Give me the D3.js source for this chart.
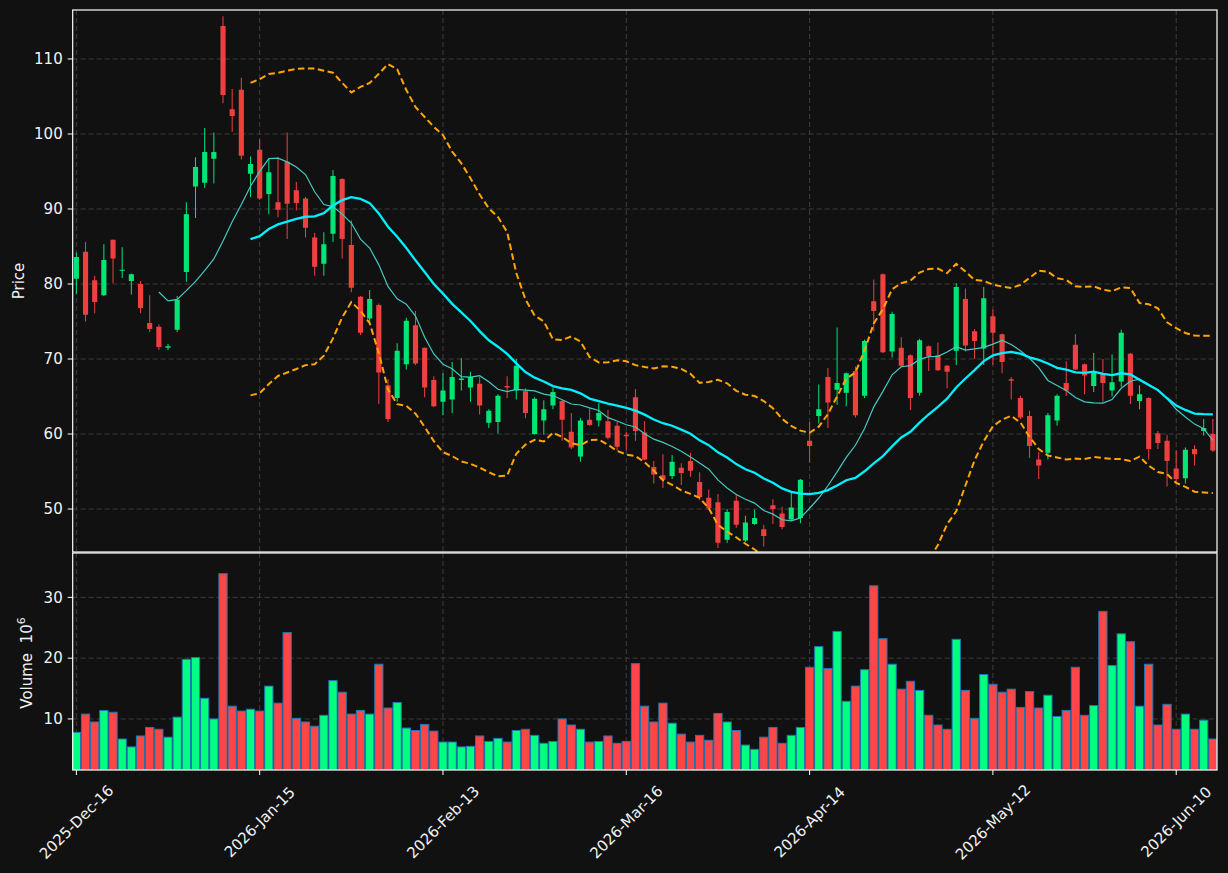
<!DOCTYPE html>
<html>
<head>
<meta charset="utf-8">
<script src="https://cdn.jsdelivr.net/npm/d3@7"></script>
<style>
  html, body { margin: 0; padding: 0; background: #111111; }
  text { font-family: "DejaVu Sans", sans-serif; }
</style>
</head>
<body>
<script>
// candle values, one entry per trading day
var open  = [80.7,84.3,80.5,78.5,85.9,81.8,80.4,80.0,74.8,74.3,71.5,73.9,81.6,93.0,93.5,96.7,114.4,103.3,105.9,94.7,
             97.9,92.0,90.9,96.3,92.5,91.4,86.2,82.7,86.7,94.0,85.2,78.3,75.4,77.2,66.5,64.8,69.3,74.5,71.5,67.2,
             64.3,64.6,67.2,66.2,66.7,61.5,61.6,66.4,65.8,65.7,60.0,61.8,63.8,64.4,60.3,57.0,61.9,61.8,61.7,61.1,
             59.9,64.9,60.2,55.6,54.5,54.4,55.5,56.4,53.6,51.5,50.9,45.9,51.1,45.8,48.0,47.3,50.5,49.4,48.6,48.8,
             59.1,62.4,67.6,65.9,65.5,68.4,65.1,77.7,81.3,71.0,71.5,70.5,65.5,71.7,70.5,69.1,71.1,78.0,73.7,71.4,
             75.7,73.3,67.3,64.8,62.4,56.6,57.5,61.8,66.8,71.9,69.3,66.4,68.1,65.8,67.0,70.7,64.4,64.8,60.1,59.1,
             55.4,54.1,58.0,60.4,60.0];
var high  = [84.2,85.6,81.1,85.3,85.9,84.9,81.4,80.4,78.5,74.6,72.0,78.4,90.9,96.9,100.8,100.2,115.7,106.0,107.5,97.0,
             99.3,96.7,96.9,100.2,93.6,91.6,86.8,86.9,95.2,94.1,88.5,78.4,79.2,77.4,67.3,72.1,75.5,76.4,71.5,67.7,
             68.1,69.6,70.1,68.3,67.6,63.3,65.3,67.7,70.0,66.1,64.9,64.5,66.1,64.5,62.8,62.1,63.4,64.1,63.2,61.6,
             60.3,66.0,61.7,56.4,57.3,57.2,56.1,57.5,54.9,52.6,52.0,50.0,51.9,49.1,49.9,47.9,51.3,50.3,52.2,54.0,
             61.6,66.6,68.8,74.2,68.2,69.0,72.6,80.6,81.4,76.3,72.9,70.6,72.7,71.8,72.2,69.2,80.1,79.4,74.0,79.6,
             76.6,73.4,67.6,65.1,63.1,57.6,62.8,65.3,69.7,73.3,69.4,70.8,70.0,70.6,73.9,70.8,66.5,64.9,60.4,59.9,
             57.8,58.2,58.5,62.0,62.0];
var low   = [78.7,75.0,76.1,78.4,80.1,80.8,78.6,76.1,73.6,71.2,71.2,73.6,80.3,88.8,92.8,93.4,104.1,100.3,96.6,91.6,
             91.2,89.3,88.9,86.0,89.8,86.2,81.1,81.1,85.6,83.4,78.9,73.2,74.8,64.0,61.6,64.3,68.6,69.2,64.9,63.6,
             62.5,62.8,65.8,64.3,62.6,60.8,60.1,64.8,64.6,62.1,59.9,59.9,63.3,59.1,58.0,56.3,61.1,61.0,59.3,57.8,
             57.8,59.1,56.5,53.4,52.8,54.0,53.2,54.3,51.2,49.9,44.8,45.5,47.5,45.6,47.9,45.0,48.0,47.3,48.4,48.1,
             56.2,61.4,60.8,63.9,63.7,62.2,64.8,73.7,70.8,70.2,68.9,63.2,65.1,68.4,68.4,66.1,69.2,71.0,70.0,69.2,
             69.2,68.1,64.6,62.0,56.8,54.0,56.6,61.1,65.1,68.5,65.3,65.6,64.3,65.0,66.3,64.0,63.3,56.6,58.0,53.0,
             53.6,53.4,55.8,59.8,57.6];
var close = [83.6,75.9,77.6,83.2,83.4,81.9,81.3,76.8,74.0,71.6,71.7,77.9,89.3,95.6,97.6,97.6,105.2,102.4,97.1,96.0,
             91.4,94.9,89.9,90.7,90.8,87.5,82.3,85.3,94.4,86.0,79.5,73.5,78.0,68.2,62.0,71.1,75.1,69.4,66.2,63.7,
             65.8,67.6,67.4,67.6,63.8,63.1,65.1,66.2,69.1,62.8,64.7,63.3,65.6,61.9,58.2,61.8,61.2,62.8,59.5,58.3,
             59.7,60.4,56.6,54.6,53.9,56.3,54.8,55.1,51.6,50.1,45.5,49.6,47.9,48.2,48.8,46.4,50.0,47.6,50.2,53.9,
             58.4,63.3,64.2,66.8,68.1,62.5,72.4,76.4,70.9,76.0,69.1,64.8,72.5,70.4,68.5,68.3,79.6,71.8,72.4,78.1,
             73.5,69.6,67.1,62.2,58.4,55.8,62.5,65.1,65.8,68.6,67.8,68.2,66.8,66.9,73.5,65.1,65.3,58.0,58.8,56.4,
             54.0,57.9,57.3,60.8,57.8];
// volume in millions
var volume = [7.8,10.8,9.5,11.4,11.1,6.7,5.4,7.2,8.6,8.3,7.0,10.3,19.8,20.1,13.4,10.0,33.9,12.1,11.3,11.6,
              11.3,15.4,12.6,24.2,10.1,9.5,8.8,10.6,16.3,14.4,10.8,11.4,10.8,19.0,11.8,12.7,8.5,8.1,9.1,8.0,
              6.2,6.2,5.4,5.5,7.2,6.3,6.8,6.2,8.1,8.3,7.3,6.0,6.3,10.0,9.0,8.3,6.2,6.3,7.2,6.0,
              6.3,19.1,12.1,9.5,12.6,9.3,7.5,6.2,7.3,6.5,10.9,9.5,8.1,5.7,5.0,7.0,8.6,6.0,7.3,8.6,
              18.5,21.9,18.3,24.4,12.9,15.4,18.1,31.9,23.2,19.0,14.9,16.2,14.7,10.6,9.0,8.3,23.1,14.7,10.1,17.3,
              15.7,14.4,14.9,11.9,14.5,11.8,13.9,10.4,11.4,18.5,10.6,12.2,27.7,18.8,24.0,22.7,12.1,19.0,9.0,12.4,
              8.3,10.8,8.3,9.8,6.7];

var tickIdx = [0, 20, 40, 60, 80, 100, 120];
var tickLabels = ["2025-Dec-16", "2026-Jan-15", "2026-Feb-13", "2026-Mar-16", "2026-Apr-14", "2026-May-12", "2026-Jun-10"];
var priceTicks = [50, 60, 70, 80, 90, 100, 110];
var volTicks = [10, 20, 30];

var W = 1228, H = 873;
var left = 72.7, right = 1217;
var pTop = 10, pBot = 552, vTop = 553, vBot = 770;

var svg = d3.select("body").append("svg")
  .attr("width", W).attr("height", H)
  .style("background", "#111111");

var x = d3.scaleLinear().domain([-0.4, 124.45]).range([left, right]);
var yP = d3.scaleLinear().domain([44.27, 116.53]).range([pBot, pTop]);
var yV = d3.scaleLinear().domain([1.6, 37.3]).range([vBot, vTop]);
var step = x(1) - x(0);

var defs = svg.append("defs");
defs.append("clipPath").attr("id", "clipP").append("rect")
  .attr("x", left).attr("y", pTop).attr("width", right - left).attr("height", pBot - pTop);
defs.append("clipPath").attr("id", "clipV").append("rect")
  .attr("x", left).attr("y", vTop).attr("width", right - left).attr("height", vBot - vTop);

// rolling mean / bollinger from the closes
function rolling(n) {
  var out = [];
  for (var i = n - 1; i < close.length; i++) {
    var win = close.slice(i - n + 1, i + 1);
    var m = d3.mean(win);
    var sd = Math.sqrt(d3.mean(win, function(v) { return (v - m) * (v - m); }));
    out.push({i: i, m: m, up: m + 2 * sd, lo: m - 2 * sd});
  }
  return out;
}
var ma10 = rolling(10), ma20 = rolling(20);

var grid = "#3d3d3d";
var gP = svg.append("g").attr("clip-path", "url(#clipP)");
var gV = svg.append("g").attr("clip-path", "url(#clipV)");

// grid lines
priceTicks.forEach(function(t) {
  gP.append("line").attr("x1", left).attr("x2", right).attr("y1", yP(t)).attr("y2", yP(t))
    .attr("stroke", grid).attr("stroke-dasharray", "5,3");
});
volTicks.forEach(function(t) {
  gV.append("line").attr("x1", left).attr("x2", right).attr("y1", yV(t)).attr("y2", yV(t))
    .attr("stroke", grid).attr("stroke-dasharray", "5,3");
});
tickIdx.forEach(function(t) {
  gP.append("line").attr("x1", x(t)).attr("x2", x(t)).attr("y1", pTop).attr("y2", pBot)
    .attr("stroke", grid).attr("stroke-dasharray", "5,3");
  gV.append("line").attr("x1", x(t)).attr("x2", x(t)).attr("y1", vTop).attr("y2", vBot)
    .attr("stroke", grid).attr("stroke-dasharray", "5,3");
});

var idx = d3.range(close.length);
function isUp(i) { return close[i] >= open[i]; }

// volume bars
gV.selectAll("rect.vol").data(idx).enter().append("rect")
  .attr("x", function(i) { return x(i) - step * 0.45; })
  .attr("width", step * 0.9)
  .attr("y", function(i) { return yV(volume[i]); })
  .attr("height", function(i) { return vBot - yV(volume[i]) + 2; })
  .attr("fill", function(i) { return isUp(i) ? "#00ff80" : "#ff4646"; })
  .attr("stroke", "#1f77b4").attr("stroke-width", 1);

// candles
gP.selectAll("line.wick").data(idx).enter().append("line")
  .attr("x1", function(i) { return x(i); }).attr("x2", function(i) { return x(i); })
  .attr("y1", function(i) { return yP(high[i]); })
  .attr("y2", function(i) { return yP(low[i]); })
  .attr("stroke", function(i) { return isUp(i) ? "#00e676" : "#ef4040"; })
  .attr("stroke-width", 1);

gP.selectAll("rect.body").data(idx).enter().append("rect")
  .attr("x", function(i) { return x(i) - step * 0.28; })
  .attr("width", step * 0.56)
  .attr("y", function(i) { return yP(Math.max(open[i], close[i])); })
  .attr("height", function(i) { return Math.max(1, Math.abs(yP(open[i]) - yP(close[i]))); })
  .attr("fill", function(i) { return isUp(i) ? "#00e676" : "#ef4040"; });

// moving averages and bands
var line = function(key) {
  return d3.line().x(function(d) { return x(d.i); }).y(function(d) { return yP(d[key]); });
};
gP.append("path").datum(ma10).attr("d", line("m"))
  .attr("fill", "none").attr("stroke", "#45c9c2").attr("stroke-width", 1.2);
gP.append("path").datum(ma20).attr("d", line("m"))
  .attr("fill", "none").attr("stroke", "#00f0ff").attr("stroke-width", 2.3);
gP.append("path").datum(ma20).attr("d", line("up"))
  .attr("fill", "none").attr("stroke", "#ffa500").attr("stroke-width", 2).attr("stroke-dasharray", "6.5,3.5");
gP.append("path").datum(ma20).attr("d", line("lo"))
  .attr("fill", "none").attr("stroke", "#ffa500").attr("stroke-width", 2).attr("stroke-dasharray", "6.5,3.5");

// frames
var spine = "#ffffff";
svg.append("rect").attr("x", left).attr("y", pTop).attr("width", right - left).attr("height", pBot - pTop)
  .attr("fill", "none").attr("stroke", spine).attr("stroke-width", 1.2);
svg.append("rect").attr("x", left).attr("y", vTop).attr("width", right - left).attr("height", vBot - vTop)
  .attr("fill", "none").attr("stroke", spine).attr("stroke-width", 1.2);

// y ticks
var txt = "#f2f2f2";
priceTicks.forEach(function(t) {
  svg.append("line").attr("x1", left - 5).attr("x2", left).attr("y1", yP(t)).attr("y2", yP(t)).attr("stroke", spine);
  svg.append("text").attr("x", left - 10).attr("y", yP(t)).attr("dy", "0.35em")
    .attr("text-anchor", "end").attr("fill", txt).style("font-size", "15px").text(t);
});
volTicks.forEach(function(t) {
  svg.append("line").attr("x1", left - 5).attr("x2", left).attr("y1", yV(t)).attr("y2", yV(t)).attr("stroke", spine);
  svg.append("text").attr("x", left - 10).attr("y", yV(t)).attr("dy", "0.35em")
    .attr("text-anchor", "end").attr("fill", txt).style("font-size", "15px").text(t);
});

// x ticks
tickIdx.forEach(function(t, k) {
  svg.append("line").attr("x1", x(t)).attr("x2", x(t)).attr("y1", vBot).attr("y2", vBot + 5).attr("stroke", spine);
  svg.append("text").attr("transform", "translate(" + x(t) + "," + 822 + ") rotate(-45)")
    .attr("text-anchor", "middle").attr("dy", "0.35em")
    .attr("fill", txt).style("font-size", "15px").text(tickLabels[k]);
});

// axis labels
svg.append("text").attr("transform", "translate(24," + ((pTop + pBot) / 2) + ") rotate(-90)")
  .attr("text-anchor", "middle").attr("fill", txt).style("font-size", "15px").text("Price");
var vl = svg.append("text").attr("transform", "translate(32,663) rotate(-90)")
  .attr("text-anchor", "middle").attr("fill", txt).style("font-size", "15px");
vl.append("tspan").text("Volume\u00a0\u00a010");
vl.append("tspan").attr("dy", "-7").style("font-size", "11px").text("6");
</script>
</body>
</html>
